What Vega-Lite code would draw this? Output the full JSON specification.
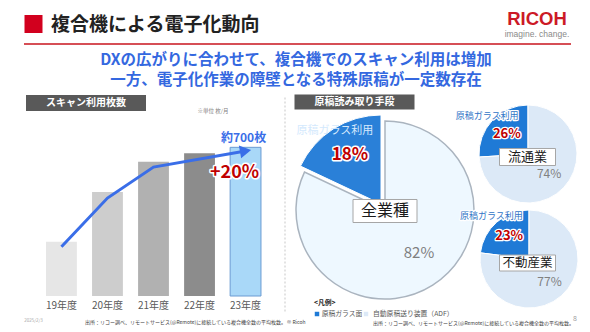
{
  "$schema": "https://vega.github.io/schema/vega-lite/v6.json",
  "padding": 0,
  "background": "#ffffff",
  "spacing": 0,
  "bounds": "flush",
  "resolve": {"scale": {"color": "independent", "opacity": "independent", "theta": "independent"}},
  "config": {"view": {"stroke": null}, "font": "Noto Sans CJK JP"},
  "datasets": {
    "scans": [
      {"year": "19年度", "count": 255, "note": "", "growth": ""},
      {"year": "20年度", "count": 490, "note": "", "growth": ""},
      {"year": "21年度", "count": 632, "note": "", "growth": ""},
      {"year": "22年度", "count": 672, "note": "", "growth": ""},
      {"year": "23年度", "count": 700, "note": "約700枚", "growth": "+20%"}
    ],
    "trend": [
      {"year": "19年度", "value": 232},
      {"year": "20年度", "value": 461},
      {"year": "21年度", "value": 607},
      {"year": "23年度", "value": 683}
    ],
    "pies": [
      {"industry": "全業種", "cat": "原稿ガラス面", "value": 18, "pct": "18%", "lbl": "原稿ガラス利用"},
      {"industry": "全業種", "cat": "自動原稿送り装置（ADF）", "value": 82, "pct": "82%", "lbl": ""},
      {"industry": "流通業", "cat": "原稿ガラス面", "value": 26, "pct": "26%", "lbl": "原稿ガラス利用"},
      {"industry": "流通業", "cat": "自動原稿送り装置（ADF）", "value": 74, "pct": "74%", "lbl": ""},
      {"industry": "不動産業", "cat": "原稿ガラス面", "value": 23, "pct": "23%", "lbl": "原稿ガラス利用"},
      {"industry": "不動産業", "cat": "自動原稿送り装置（ADF）", "value": 77, "pct": "77%", "lbl": ""}
    ]
  },
  "vconcat": [
    {"width": 537, "height": 19, "data": {"values": [{"t": "RICOH"}]},
     "mark": {"type": "text", "font": "Liberation Sans", "fontSize": 18.5, "fontWeight": "bold", "color": "#cc1a26", "align": "center", "baseline": "middle"},
     "encoding": {"x": {"value": "width"}, "y": {"value": "height"}, "text": {"field": "t"}}},
    {"width": 33.5, "height": 5, "data": {"values": [{"t": "mark"}]},
     "mark": {"type": "point", "shape": "square", "size": 324, "filled": true, "color": "#d2001e", "opacity": 1},
     "encoding": {"x": {"value": "width"}, "y": {"value": "height"}}},
    {"width": 51, "height": 1, "data": {"values": [{"t": "複合機による電子化動向"}]},
     "mark": {"type": "text", "fontSize": 19, "fontWeight": "bold", "color": "#222222", "align": "left", "baseline": "middle"},
     "encoding": {"x": {"value": "width"}, "y": {"value": "height"}, "text": {"field": "t"}}},
    {"width": 537, "height": 9, "data": {"values": [{"t": "imagine. change."}]},
     "mark": {"type": "text", "font": "Liberation Sans", "fontSize": 8.5, "color": "#8a8a8a", "align": "center", "baseline": "middle"},
     "encoding": {"x": {"value": "width"}, "y": {"value": "height"}, "text": {"field": "t"}}},
    {"width": 297.5, "height": 10, "data": {"values": [{"t": "rule"}]},
     "mark": {"type": "point", "shape": "M-1,0H1", "size": 299209, "filled": false, "color": "#c8141e", "strokeWidth": 1.5, "opacity": 1},
     "encoding": {"x": {"value": "width"}, "y": {"value": "height"}}},
    {"width": 296, "height": 16, "data": {"values": [{"t": "DXの広がりに合わせて、複合機でのスキャン利用は増加"}]},
     "mark": {"type": "text", "fontSize": 15.5, "fontWeight": "bold", "color": "#3468e0", "align": "center", "baseline": "middle"},
     "encoding": {"x": {"value": "width"}, "y": {"value": "height"}, "text": {"field": "t"}}},
    {"width": 296, "height": 20, "data": {"values": [{"t": "一方、電子化作業の障壁となる特殊原稿が一定数存在"}]},
     "mark": {"type": "text", "fontSize": 15.5, "fontWeight": "bold", "color": "#3468e0", "align": "center", "baseline": "middle"},
     "encoding": {"x": {"value": "width"}, "y": {"value": "height"}, "text": {"field": "t"}}},
    {"width": 354.5, "height": 22, "data": {"values": [{"t": "原稿読み取り手段"}]},
     "encoding": {"x": {"value": "width"}, "y": {"value": "height"}},
     "layer": [
       {"mark": {"type": "point", "shape": "M-1,-0.125H1V0.125H-1Z", "size": 14400, "filled": true, "color": "#595959", "opacity": 1}},
       {"mark": {"type": "text", "fontSize": 10, "fontWeight": "bold", "color": "#ffffff", "align": "center", "baseline": "middle"}, "encoding": {"text": {"field": "t"}}}
     ]},
    {"width": 86, "height": 1, "data": {"values": [{"t": "スキャン利用枚数"}]},
     "encoding": {"x": {"value": "width"}, "y": {"value": "height"}},
     "layer": [
       {"mark": {"type": "point", "shape": "M-1,-0.1333H1V0.1333H-1Z", "size": 14400, "filled": true, "color": "#595959", "opacity": 1}},
       {"mark": {"type": "text", "fontSize": 10, "fontWeight": "bold", "color": "#ffffff", "align": "center", "baseline": "middle"}, "encoding": {"text": {"field": "t"}}}
     ]},
    {"width": 213, "height": 8, "data": {"values": [{"t": "※単位 枚/月"}]},
     "mark": {"type": "text", "fontSize": 5.5, "color": "#7f7f7f", "align": "center", "baseline": "middle"},
     "encoding": {"x": {"value": "width"}, "y": {"value": "height"}, "text": {"field": "t"}}},
    {"width": 307, "height": 2, "data": {"name": "scans"},
     "layer": [
       {"mark": {"type": "bar", "strokeWidth": 1},
        "encoding": {
          "x": {"field": "year", "type": "nominal", "scale": {"domain": ["19年度", "20年度", "21年度", "22年度", "23年度"], "paddingInner": 0.33, "paddingOuter": 1.095}, "axis": null},
          "y": {"field": "count", "type": "quantitative", "scale": {"domain": [0, 871], "range": [185, 0], "nice": false}, "axis": null},
          "color": {"field": "year", "type": "nominal", "scale": {"domain": ["19年度", "20年度", "21年度", "22年度", "23年度"], "range": ["#e6e6e6", "#cdcdcd", "#b1b1b1", "#8c8c8c", "#a9d8f8"]}, "legend": null},
          "stroke": {"condition": {"test": "datum.year === '23年度'", "value": "#6b9bd2"}, "value": null}
        }},
       {"data": {"name": "trend"},
        "mark": {"type": "line", "color": "#3a6ee8", "strokeWidth": 3},
        "encoding": {
          "x": {"field": "year", "type": "nominal", "axis": null},
          "y": {"field": "value", "type": "quantitative", "axis": null}
        }},
       {"data": {"name": "trend"},
        "transform": [{"filter": "datum.year === '23年度'"}],
        "mark": {"type": "point", "shape": "triangle-right", "size": 170, "angle": 350, "filled": true, "color": "#3a6ee8", "opacity": 1},
        "encoding": {
          "x": {"field": "year", "type": "nominal", "axis": null},
          "y": {"field": "value", "type": "quantitative", "axis": null}
        }},
       {"mark": {"type": "text", "baseline": "bottom", "dy": -2, "dx": -2, "fontSize": 12, "fontWeight": "bold", "color": "#3a6ee8"},
        "encoding": {
          "x": {"field": "year", "type": "nominal", "axis": null},
          "y": {"field": "count", "type": "quantitative", "axis": null},
          "text": {"field": "note"}
        }},
       {"mark": {"type": "text", "baseline": "middle", "dy": 26, "dx": -11, "fontSize": 18, "fontWeight": "bold", "fill": "#ffffff", "stroke": "#ffffff", "strokeWidth": 3, "strokeJoin": "round"},
        "encoding": {
          "x": {"field": "year", "type": "nominal", "axis": null},
          "y": {"field": "count", "type": "quantitative", "axis": null},
          "text": {"field": "growth"}
        }},
       {"mark": {"type": "text", "baseline": "middle", "dy": 26, "dx": -11, "fontSize": 18, "fontWeight": "bold", "color": "#c00000"},
        "encoding": {
          "x": {"field": "year", "type": "nominal", "axis": null},
          "y": {"field": "count", "type": "quantitative", "axis": null},
          "text": {"field": "growth"}
        }},
       {"mark": {"type": "text", "baseline": "middle", "fontSize": 10, "color": "#595959"},
        "encoding": {
          "x": {"field": "year", "type": "nominal", "axis": null},
          "y": {"datum": -47, "type": "quantitative", "axis": null},
          "text": {"field": "year"}
        }}
     ]},
    {"width": 528, "height": 41, "data": {"name": "pies"},
     "transform": [{"filter": "datum.industry === '流通業'"}],
     "encoding": {
       "x": {"value": "width"}, "y": {"value": "height"},
       "theta": {"field": "value", "type": "quantitative", "stack": true, "scale": {"domain": [0, 100]}},
       "order": {"field": "value", "type": "quantitative", "sort": "descending"},
       "detail": {"field": "cat", "type": "nominal"}
     },
     "layer": [
       {"mark": {"type": "arc", "radius": 49, "stroke": "#ffffff", "strokeWidth": 1},
        "encoding": {"color": {"field": "cat", "type": "nominal", "scale": {"domain": ["原稿ガラス面", "自動原稿送り装置（ADF）"], "range": ["#1f7ad6", "#dce9f7"]}, "legend": null}}},
       {"mark": {"type": "text", "radius": 56, "fontSize": 9, "fill": "#ffffff", "stroke": "#ffffff", "strokeWidth": 2.5, "strokeJoin": "round"}, "encoding": {"text": {"field": "lbl"}}},
       {"mark": {"type": "text", "radius": 56, "fontSize": 9, "fill": "#2f73c6"}, "encoding": {"text": {"field": "lbl"}}},
       {"mark": {"type": "text", "radius": 29, "fontSize": 13, "fontWeight": "bold", "fill": "#ffffff", "stroke": "#ffffff", "strokeWidth": 2.5, "strokeJoin": "round"},
        "encoding": {"text": {"condition": {"test": "datum.cat === '原稿ガラス面'", "field": "pct"}, "value": ""}}},
       {"mark": {"type": "text", "radius": 29, "fontSize": 13, "fontWeight": "bold", "fill": "#c00000"},
        "encoding": {"text": {"condition": {"test": "datum.cat === '原稿ガラス面'", "field": "pct"}, "value": ""}}},
       {"mark": {"type": "text", "radius": 29, "fontSize": 12, "fill": "#808080"},
        "encoding": {"text": {"condition": {"test": "datum.cat !== '原稿ガラス面'", "field": "pct"}, "value": ""}}}
     ]},
    {"width": 527.5, "height": 3, "data": {"values": [{"t": "流通業"}]},
     "encoding": {"x": {"value": "width"}, "y": {"value": "height"}},
     "layer": [
       {"mark": {"type": "point", "shape": "M-1,-0.3036H1V0.3036H-1Z", "size": 3136, "filled": true, "fill": "#ffffff", "stroke": "#a6a6a6", "strokeWidth": 1, "opacity": 1}},
       {"mark": {"type": "text", "fontSize": 13, "color": "#1a1a1a", "align": "center", "baseline": "middle"}, "encoding": {"text": {"field": "t"}}}
     ]},
    {"width": 285, "height": 48, "data": {"values": [{"t": "separator"}]},
     "mark": {"type": "point", "shape": "M0,-1V1", "size": 46225, "filled": false, "color": "#c7c7c7", "strokeWidth": 1, "strokeDash": [2, 2], "opacity": 1},
     "encoding": {"x": {"value": "width"}, "y": {"value": "height"}}},
    {"width": 385, "height": 5, "data": {"name": "pies"},
     "transform": [{"filter": "datum.industry === '全業種'"}],
     "encoding": {
       "x": {"value": "width"}, "y": {"value": "height"},
       "theta": {"field": "value", "type": "quantitative", "stack": true, "scale": {"domain": [0, 100]}},
       "order": {"field": "value", "type": "quantitative", "sort": "descending"},
       "detail": {"field": "cat", "type": "nominal"}
     },
     "layer": [
       {"mark": {"type": "arc", "radius": 89, "stroke": "#aab4bf", "strokeWidth": 1.5},
        "encoding": {
          "color": {"field": "cat", "type": "nominal", "scale": {"domain": ["原稿ガラス面", "自動原稿送り装置（ADF）"], "range": ["#2a80d8", "#eef8ff"]}, "legend": null},
          "opacity": {"condition": {"test": "datum.cat === '原稿ガラス面'", "value": 0}, "value": 1}
        }},
       {"mark": {"type": "arc", "radius": 89, "xOffset": -4, "yOffset": -6, "stroke": "#ffffff", "strokeWidth": 1},
        "encoding": {
          "color": {"field": "cat", "type": "nominal", "scale": {"domain": ["原稿ガラス面", "自動原稿送り装置（ADF）"], "range": ["#2a80d8", "#eef8ff"]}, "legend": null},
          "opacity": {"condition": {"test": "datum.cat === '原稿ガラス面'", "value": 1}, "value": 0}
        }},
       {"mark": {"type": "text", "radius": 86, "xOffset": -4, "yOffset": -6, "fontSize": 11, "fill": "#d4e9fd"}, "encoding": {"text": {"field": "lbl"}}},
       {"mark": {"type": "text", "radius": 58, "xOffset": -4, "yOffset": -6, "fontSize": 17, "fontWeight": "bold", "fill": "#ffffff", "stroke": "#ffffff", "strokeWidth": 3, "strokeJoin": "round"},
        "encoding": {"text": {"condition": {"test": "datum.cat === '原稿ガラス面'", "field": "pct"}, "value": ""}}},
       {"mark": {"type": "text", "radius": 58, "xOffset": -4, "yOffset": -6, "fontSize": 17, "fontWeight": "bold", "fill": "#c00000"},
        "encoding": {"text": {"condition": {"test": "datum.cat === '原稿ガラス面'", "field": "pct"}, "value": ""}}},
       {"mark": {"type": "text", "radius": 56, "xOffset": 4, "yOffset": -4, "fontSize": 15, "fill": "#7f7f7f"},
        "encoding": {"text": {"condition": {"test": "datum.cat !== '原稿ガラス面'", "field": "pct"}, "value": ""}}}
     ]},
    {"width": 385, "height": 1, "data": {"values": [{"t": "全業種"}]},
     "encoding": {"x": {"value": "width"}, "y": {"value": "height"}},
     "layer": [
       {"mark": {"type": "point", "shape": "M-1,-0.3594H1V0.3594H-1Z", "size": 4096, "filled": true, "fill": "#ffffff", "stroke": "#a6a6a6", "strokeWidth": 1, "opacity": 1}},
       {"mark": {"type": "text", "fontSize": 16, "color": "#1a1a1a", "align": "center", "baseline": "middle"}, "encoding": {"text": {"field": "t"}}}
     ]},
    {"width": 529, "height": 48, "data": {"name": "pies"},
     "transform": [{"filter": "datum.industry === '不動産業'"}],
     "encoding": {
       "x": {"value": "width"}, "y": {"value": "height"},
       "theta": {"field": "value", "type": "quantitative", "stack": true, "scale": {"domain": [0, 100]}},
       "order": {"field": "value", "type": "quantitative", "sort": "descending"},
       "detail": {"field": "cat", "type": "nominal"}
     },
     "layer": [
       {"mark": {"type": "arc", "radius": 49, "stroke": "#ffffff", "strokeWidth": 1},
        "encoding": {"color": {"field": "cat", "type": "nominal", "scale": {"domain": ["原稿ガラス面", "自動原稿送り装置（ADF）"], "range": ["#1f7ad6", "#dce9f7"]}, "legend": null}}},
       {"mark": {"type": "text", "radius": 57, "fontSize": 9, "fill": "#ffffff", "stroke": "#ffffff", "strokeWidth": 2.5, "strokeJoin": "round"}, "encoding": {"text": {"field": "lbl"}}},
       {"mark": {"type": "text", "radius": 57, "fontSize": 9, "fill": "#2f73c6"}, "encoding": {"text": {"field": "lbl"}}},
       {"mark": {"type": "text", "radius": 30, "fontSize": 13, "fontWeight": "bold", "fill": "#ffffff", "stroke": "#ffffff", "strokeWidth": 2.5, "strokeJoin": "round"},
        "encoding": {"text": {"condition": {"test": "datum.cat === '原稿ガラス面'", "field": "pct"}, "value": ""}}},
       {"mark": {"type": "text", "radius": 30, "fontSize": 13, "fontWeight": "bold", "fill": "#c00000"},
        "encoding": {"text": {"condition": {"test": "datum.cat === '原稿ガラス面'", "field": "pct"}, "value": ""}}},
       {"mark": {"type": "text", "radius": 31, "fontSize": 12, "fill": "#808080"},
        "encoding": {"text": {"condition": {"test": "datum.cat !== '原稿ガラス面'", "field": "pct"}, "value": ""}}}
     ]},
    {"width": 527.5, "height": 4, "data": {"values": [{"t": "不動産業"}]},
     "encoding": {"x": {"value": "width"}, "y": {"value": "height"}},
     "layer": [
       {"mark": {"type": "point", "shape": "M-1,-0.2857H1V0.2857H-1Z", "size": 3136, "filled": true, "fill": "#ffffff", "stroke": "#a6a6a6", "strokeWidth": 1, "opacity": 1}},
       {"mark": {"type": "text", "fontSize": 12.5, "color": "#1a1a1a", "align": "center", "baseline": "middle"}, "encoding": {"text": {"field": "t"}}}
     ]},
    {"width": 314, "height": 40, "data": {"values": [{"t": "<凡例>"}]},
     "mark": {"type": "text", "fontSize": 6.8, "fontWeight": "bold", "color": "#262626", "align": "left", "baseline": "middle"},
     "encoding": {"x": {"value": "width"}, "y": {"value": "height"}, "text": {"field": "t"}}},
    {"width": 317, "height": 11, "data": {"values": [{"a": "原稿ガラス面", "b": "自動原稿送り装置（ADF）"}]},
     "encoding": {"x": {"value": "width"}, "y": {"value": "height"}},
     "layer": [
       {"mark": {"type": "point", "shape": "square", "size": 20, "filled": true, "color": "#1f7ad6", "opacity": 1}},
       {"mark": {"type": "text", "fontSize": 6.8, "color": "#595959", "align": "left", "baseline": "middle", "dx": 4.7}, "encoding": {"text": {"field": "a"}}},
       {"mark": {"type": "point", "shape": "square", "size": 20, "filled": true, "color": "#dce9f7", "opacity": 1, "xOffset": 49}},
       {"mark": {"type": "text", "fontSize": 6.8, "color": "#595959", "align": "left", "baseline": "middle", "dx": 56}, "encoding": {"text": {"field": "b"}}}
     ]},
    {"width": 575, "height": 5, "data": {"values": [{"t": "8"}]},
     "mark": {"type": "text", "fontSize": 7, "color": "#a0a0a0", "align": "center", "baseline": "middle"},
     "encoding": {"x": {"value": "width"}, "y": {"value": "height"}, "text": {"field": "t"}}},
    {"width": 33.5, "height": 2, "data": {"values": [{"t": "2025/2/3"}]},
     "mark": {"type": "text", "fontSize": 4.5, "color": "#a6a6a6", "align": "center", "baseline": "middle"},
     "encoding": {"x": {"value": "width"}, "y": {"value": "height"}, "text": {"field": "t"}}},
    {"width": 85, "height": 1, "data": {"values": [{"t": "出所：リコー調べ、リモートサービス(@Remote)に接続している複合機全数の平均枚数。 © Ricoh"}]},
     "mark": {"type": "text", "fontSize": 5, "color": "#404040", "align": "left", "baseline": "middle"},
     "encoding": {"x": {"value": "width"}, "y": {"value": "height"}, "text": {"field": "t"}}},
    {"width": 373, "height": 1, "data": {"values": [{"t": "出所：リコー調べ、リモートサービス(@Remote)に接続している複合機全数の平均枚数。"}]},
     "mark": {"type": "text", "fontSize": 5, "color": "#404040", "align": "left", "baseline": "middle"},
     "encoding": {"x": {"value": "width"}, "y": {"value": "height"}, "text": {"field": "t"}}}
  ]
}
